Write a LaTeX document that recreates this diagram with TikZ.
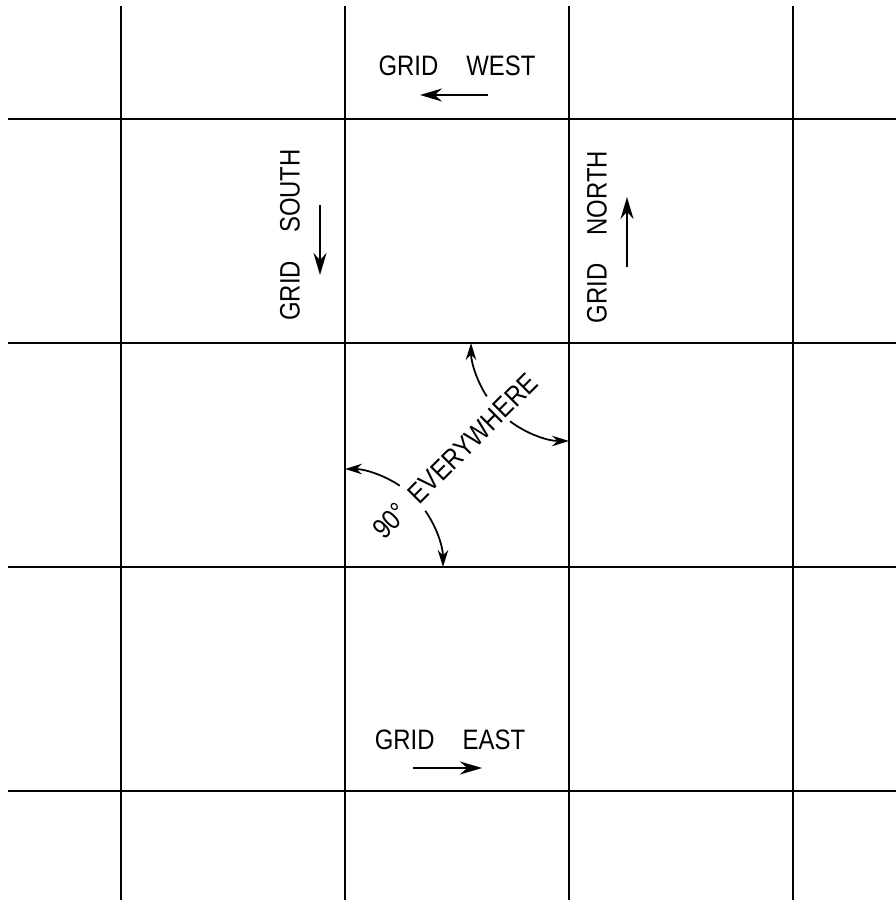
\documentclass[tikz,border=0pt]{standalone}
\usepackage{fontspec}
\setmainfont{Liberation Sans}[FakeStretch=0.85]
\usepackage{tikz}
\usetikzlibrary{arrows.meta}

\begin{document}
\begin{tikzpicture}[x=1cm,y=1cm,>={Stealth[length=2.2mm,width=1.3mm]},
    font=\fontsize{8}{9}\selectfont,
    lbl/.style={inner sep=0pt},
    ang/.style={line width=0.5pt,>={Stealth[length=1.7mm,width=1.05mm]}}]
  \useasboundingbox (0,0) rectangle (8.96,9.03);
  % grid lines
  \foreach \x in {1.21,3.45,5.69,7.93}
     \draw[line width=0.6pt] (\x,0.03) -- (\x,8.97);
  \foreach \y in {7.84,5.60,3.36,1.12}
     \draw[line width=0.6pt] (0.08,\y) -- (8.96,\y);
  % directions
  \node[lbl] (west) at (4.57,8.37) {GRID\quad WEST};
  \draw[->,line width=0.5pt] (4.88,8.08) -- (4.20,8.08);
  \node[lbl] (east) at (4.50,1.63) {GRID\quad EAST};
  \draw[->,line width=0.5pt] (4.13,1.35) -- (4.82,1.35);
  \node[lbl,rotate=90] (south) at (2.90,6.68) {GRID\quad SOUTH};
  \draw[->,line width=0.5pt] (3.20,6.98) -- (3.20,6.28);
  \node[lbl,rotate=90] (north) at (5.97,6.66) {GRID\quad NORTH};
  \draw[->,line width=0.5pt] (6.27,6.36) -- (6.27,7.06);
  % right angles
  \coordinate (ne) at (5.69,5.60);
  \coordinate (sw) at (3.45,3.36);
  \node[lbl,rotate=45] (every) at (4.55,4.47) {90°\enspace EVERYWHERE};
  \draw[ang,<-] (ne) ++(180:0.98) arc[start angle=180,end angle=213,radius=0.98];
  \draw[ang,->] (ne) ++(233:0.98) arc[start angle=233,end angle=270,radius=0.98];
  \draw[ang,<-] (sw) ++(90:0.98) arc[start angle=90,end angle=56,radius=0.98];
  \draw[ang,->] (sw) ++(35:0.98) arc[start angle=35,end angle=0,radius=0.98];
\end{tikzpicture}
\end{document}
